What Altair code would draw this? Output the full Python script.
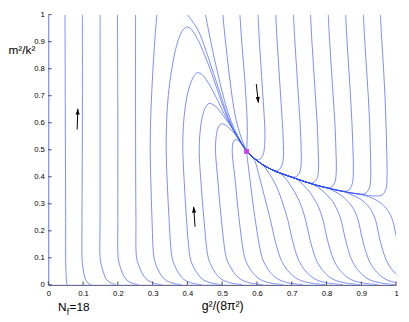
import altair as alt
import pandas as pd

# ---------------- data ----------------
x_ticks = [0, 0.1, 0.2, 0.3, 0.4, 0.5, 0.6, 0.7, 0.8, 0.9, 1]
y_ticks = [0, 0.1, 0.2, 0.3, 0.4, 0.5, 0.6, 0.7, 0.8, 0.9, 1]

fixed_point_x = [0.570]
fixed_point_y = [0.494]

# slow manifold (heavy line) from the right edge into the fixed point
manifold = [(0.945, 0.328), (0.898, 0.335), (0.851, 0.345), (0.804, 0.358), (0.757, 0.374),
            (0.71, 0.394), (0.662, 0.416), (0.64, 0.428), (0.615, 0.446), (0.59, 0.47), (0.570, 0.494)]

# left family: nearly vertical trajectories
curve_L1 = [(0.048, 1.0), (0.049, 0.6), (0.050, 0.25), (0.050, 0.1), (0.051, 0.045), (0.052, 0.02), (0.053, 0.006), (0.056, 0.0)]
curve_L2 = [(0.098, 1.0), (0.098, 0.6), (0.097, 0.25), (0.097, 0.1), (0.099, 0.07), (0.102, 0.045), (0.107, 0.02), (0.115, 0.006), (0.123, 0.001)]
curve_L3 = [(0.149, 1.0), (0.149, 0.6), (0.149, 0.25), (0.149, 0.1), (0.153, 0.07), (0.159, 0.045), (0.167, 0.02), (0.181, 0.006), (0.195, 0.001)]
curve_L4 = [(0.199, 1.0), (0.200, 0.6), (0.200, 0.25), (0.201, 0.1), (0.206, 0.07), (0.213, 0.045), (0.224, 0.02), (0.241, 0.006), (0.259, 0.001)]
curve_L5 = [(0.251, 1.0), (0.251, 0.6), (0.252, 0.25), (0.254, 0.1), (0.261, 0.07), (0.269, 0.045), (0.283, 0.02), (0.304, 0.006), (0.326, 0.001)]
curve_a = [(0.312, 1.0), (0.306, 0.9), (0.301, 0.8), (0.297, 0.7), (0.294, 0.6), (0.293, 0.49), (0.295, 0.38), (0.298, 0.25),
           (0.304, 0.1), (0.311, 0.07), (0.320, 0.045), (0.335, 0.02), (0.358, 0.006), (0.382, 0.001)]

# loops: rise from the bottom, turn over, fall into the fixed point
curve_b = [(0.441, 0.001), (0.415, 0.006), (0.390, 0.02), (0.374, 0.045), (0.364, 0.07), (0.356, 0.1), (0.347, 0.25),
           (0.342, 0.38), (0.339, 0.49), (0.340, 0.6), (0.345, 0.7), (0.354, 0.79), (0.364, 0.86), (0.376, 0.915),
           (0.387, 0.943), (0.397, 0.954), (0.408, 0.95), (0.42, 0.93), (0.435, 0.895), (0.448, 0.855), (0.462, 0.81),
           (0.48, 0.745), (0.50, 0.67), (0.515, 0.62), (0.532, 0.573), (0.55, 0.532), (0.570, 0.494)]
curve_c = [(0.499, 0.001), (0.471, 0.006), (0.444, 0.02), (0.427, 0.045), (0.416, 0.07), (0.408, 0.1), (0.397, 0.25),
           (0.391, 0.38), (0.387, 0.49), (0.388, 0.58), (0.393, 0.65), (0.401, 0.71), (0.411, 0.752), (0.42, 0.775),
           (0.428, 0.785), (0.437, 0.783), (0.447, 0.772), (0.46, 0.748), (0.475, 0.713), (0.49, 0.675), (0.503, 0.64),
           (0.517, 0.607), (0.533, 0.572), (0.551, 0.532), (0.570, 0.494)]
curve_d = [(0.558, 0.001), (0.528, 0.006), (0.499, 0.02), (0.480, 0.045), (0.469, 0.07), (0.46, 0.1), (0.447, 0.25),
           (0.439, 0.38), (0.434, 0.49), (0.436, 0.56), (0.441, 0.61), (0.449, 0.648), (0.456, 0.665), (0.462, 0.671),
           (0.47, 0.67), (0.48, 0.662), (0.492, 0.645), (0.505, 0.623), (0.52, 0.596), (0.535, 0.567), (0.552, 0.531), (0.570, 0.494)]
curve_e = [(0.616, 0.001), (0.584, 0.006), (0.554, 0.02), (0.534, 0.045), (0.522, 0.07), (0.512, 0.1), (0.497, 0.25),
           (0.488, 0.38), (0.481, 0.49), (0.482, 0.54), (0.486, 0.572), (0.491, 0.588), (0.497, 0.596), (0.504, 0.595),
           (0.513, 0.588), (0.525, 0.574), (0.54, 0.553), (0.555, 0.525), (0.570, 0.494)]
curve_f = [(0.675, 0.001), (0.642, 0.006), (0.609, 0.02), (0.588, 0.045), (0.575, 0.07), (0.565, 0.1), (0.548, 0.25),
           (0.538, 0.38), (0.529, 0.49), (0.53, 0.518), (0.533, 0.532), (0.537, 0.537), (0.543, 0.536), (0.551, 0.529),
           (0.56, 0.515), (0.570, 0.494)]
curve_g = [(0.732, 0.001), (0.696, 0.006), (0.662, 0.02), (0.639, 0.045), (0.626, 0.07), (0.615, 0.1), (0.594, 0.25),
           (0.581, 0.38), (0.574, 0.45), (0.570, 0.494)]

# lower-right family: rise from the bottom and merge into the manifold
curve_h = [(0.797, 0.001), (0.757, 0.006), (0.719, 0.02), (0.694, 0.045), (0.679, 0.07), (0.667, 0.1), (0.651, 0.17),
           (0.639, 0.239), (0.627, 0.30), (0.615, 0.36), (0.605, 0.41), (0.597, 0.448), (0.59, 0.47), (0.58, 0.482), (0.570, 0.494)]
curve_i = [(0.847, 0.001), (0.807, 0.006), (0.769, 0.02), (0.744, 0.045), (0.729, 0.07), (0.717, 0.1), (0.701, 0.17),
           (0.689, 0.239), (0.677, 0.29), (0.664, 0.34), (0.65, 0.38), (0.635, 0.412), (0.622, 0.436)]
curve_j = [(0.898, 0.001), (0.858, 0.006), (0.82, 0.02), (0.795, 0.045), (0.78, 0.07), (0.768, 0.1), (0.752, 0.17),
           (0.74, 0.239), (0.728, 0.29), (0.716, 0.325), (0.703, 0.355), (0.69, 0.38), (0.675, 0.404)]
curve_k = [(0.948, 0.001), (0.908, 0.006), (0.87, 0.02), (0.845, 0.045), (0.83, 0.07), (0.818, 0.1), (0.802, 0.17),
           (0.79, 0.239), (0.778, 0.285), (0.766, 0.315), (0.752, 0.343), (0.737, 0.365), (0.72, 0.386)]
curve_l = [(1.0, 0.001), (0.96, 0.006), (0.922, 0.02), (0.897, 0.045), (0.882, 0.07), (0.87, 0.1), (0.854, 0.17),
           (0.842, 0.239), (0.83, 0.28), (0.818, 0.308), (0.803, 0.33), (0.787, 0.35), (0.77, 0.365)]
curve_m = [(1.049, 0.001), (1.009, 0.006), (0.971, 0.02), (0.946, 0.045), (0.931, 0.07), (0.919, 0.1), (0.903, 0.17),
           (0.891, 0.239), (0.879, 0.278), (0.866, 0.302), (0.851, 0.322), (0.834, 0.338), (0.818, 0.349)]
curve_n = [(1.099, 0.001), (1.059, 0.006), (1.021, 0.02), (0.996, 0.045), (0.981, 0.07), (0.969, 0.1), (0.953, 0.17),
           (0.941, 0.239), (0.929, 0.275), (0.916, 0.297), (0.90, 0.315), (0.882, 0.328), (0.865, 0.337)]
curve_o = [(1.148, 0.001), (1.108, 0.006), (1.07, 0.02), (1.045, 0.045), (1.03, 0.07), (1.018, 0.1), (1.002, 0.17),
           (0.99, 0.239), (0.978, 0.272), (0.964, 0.293), (0.948, 0.31), (0.93, 0.322), (0.912, 0.33)]

# top family: fall from the top edge
curve_T40 = [(0.40, 1.0), (0.412, 0.98), (0.425, 0.955), (0.437, 0.925), (0.447, 0.89), (0.458, 0.85), (0.468, 0.81),
             (0.485, 0.745), (0.503, 0.672), (0.517, 0.621), (0.533, 0.574), (0.551, 0.532), (0.570, 0.494)]
curve_T45 = [(0.452, 1.0), (0.461, 0.94), (0.469, 0.89), (0.477, 0.84), (0.486, 0.79), (0.496, 0.735), (0.507, 0.68),
             (0.52, 0.625), (0.536, 0.575), (0.553, 0.532), (0.570, 0.494)]
curve_T50 = [(0.502, 1.0), (0.507, 0.93), (0.513, 0.86), (0.519, 0.79), (0.526, 0.72), (0.534, 0.65), (0.545, 0.585),
             (0.557, 0.537), (0.570, 0.494)]
curve_T55 = [(0.551, 1.0), (0.555, 0.92), (0.56, 0.84), (0.565, 0.76), (0.569, 0.68), (0.572, 0.6), (0.572, 0.54), (0.570, 0.494)]
curve_T60 = [(0.603, 1.0), (0.607, 0.9), (0.612, 0.8), (0.617, 0.7), (0.621, 0.62), (0.623, 0.56), (0.622, 0.515),
             (0.617, 0.48), (0.605, 0.463)]
curve_T65 = [(0.654, 1.0), (0.658, 0.9), (0.663, 0.8), (0.668, 0.7), (0.673, 0.6), (0.676, 0.52), (0.676, 0.47),
             (0.671, 0.44), (0.66, 0.423), (0.648, 0.424)]
curve_T70 = [(0.705, 1.0), (0.709, 0.9), (0.714, 0.8), (0.719, 0.7), (0.724, 0.6), (0.727, 0.5), (0.727, 0.45),
             (0.723, 0.418), (0.712, 0.4), (0.695, 0.401)]
curve_T75 = [(0.754, 1.0), (0.758, 0.9), (0.763, 0.8), (0.768, 0.7), (0.773, 0.6), (0.776, 0.5), (0.777, 0.43),
             (0.773, 0.395), (0.762, 0.378), (0.745, 0.379)]
curve_T80 = [(0.805, 1.0), (0.809, 0.9), (0.814, 0.8), (0.819, 0.7), (0.824, 0.6), (0.827, 0.5), (0.828, 0.42),
             (0.824, 0.38), (0.813, 0.362), (0.795, 0.361)]
curve_T85 = [(0.855, 1.0), (0.859, 0.9), (0.864, 0.8), (0.869, 0.7), (0.873, 0.6), (0.876, 0.5), (0.877, 0.41),
             (0.873, 0.37), (0.862, 0.349), (0.843, 0.347)]
curve_T90 = [(0.906, 1.0), (0.91, 0.9), (0.915, 0.8), (0.92, 0.7), (0.924, 0.6), (0.926, 0.5), (0.927, 0.4),
             (0.923, 0.358), (0.911, 0.338), (0.892, 0.336)]
curve_T95 = [(0.955, 1.0), (0.959, 0.9), (0.964, 0.8), (0.968, 0.7), (0.971, 0.6), (0.973, 0.5), (0.974, 0.4),
             (0.971, 0.355), (0.96, 0.333), (0.94, 0.329)]

# flow-direction arrows (tail -> head)
arrow_tail_x = [0.083, 0.598, 0.422]
arrow_tail_y = [0.575, 0.743, 0.215]
arrow_head_x = [0.085, 0.604, 0.418]
arrow_head_y = [0.652, 0.674, 0.289]
arrow_angle = [2, 174, 356]

# ---------------- build table ----------------
def joined(pts):
    last_x = pts[-1][0]
    return pts + [p for p in manifold if p[0] < last_x - 0.004]

curves = [
    ("L1", curve_L1), ("L2", curve_L2), ("L3", curve_L3), ("L4", curve_L4), ("L5", curve_L5),
    ("a", curve_a), ("b", curve_b), ("c", curve_c), ("d", curve_d), ("e", curve_e), ("f", curve_f), ("g", curve_g),
    ("h", curve_h), ("i", joined(curve_i)), ("j", joined(curve_j)), ("k", joined(curve_k)), ("l", joined(curve_l)),
    ("m", joined(curve_m)), ("n", joined(curve_n)), ("o", joined(curve_o)),
    ("T40", curve_T40), ("T45", curve_T45), ("T50", curve_T50), ("T55", curve_T55),
    ("T60", joined(curve_T60)), ("T65", joined(curve_T65)), ("T70", joined(curve_T70)), ("T75", joined(curve_T75)),
    ("T80", joined(curve_T80)), ("T85", joined(curve_T85)), ("T90", joined(curve_T90)), ("T95", joined(curve_T95)),
]
rows = []
for name, pts in curves:
    for i, (x, y) in enumerate(pts):
        rows.append({"c": name, "i": i, "x": x, "y": y})
df = pd.DataFrame(rows)

fp_df = pd.DataFrame({"x": fixed_point_x, "y": fixed_point_y})
arr_df = pd.DataFrame({"x": arrow_tail_x, "y": arrow_tail_y, "x2": arrow_head_x, "y2": arrow_head_y, "ang": arrow_angle})
head_df = pd.DataFrame({"x": arrow_head_x, "y": arrow_head_y, "ang": arrow_angle})

FONT = "Liberation Sans"
W, H = 354, 275
xs = alt.Scale(domain=[0, 1], nice=False, zero=False)
ys = alt.Scale(domain=[0, 1], nice=False, zero=False)

x_axis = alt.Axis(
    values=x_ticks, format="~g", ticks=False, grid=False, domainColor="#4a4f80", domainWidth=1,
    labelFont=FONT, labelFontSize=7.8, labelColor="black", labelPadding=5, labelFlush=False,
    labelOverlap=False, title="g²/(8π²)", titleFont=FONT, titleFontSize=12.5, titleFontWeight="normal",
    titleColor="black", titleY=25, titleBaseline="alphabetic")
y_axis = alt.Axis(
    values=y_ticks, format="~g", ticks=False, grid=False, domain=True, domainColor="#5f70ff", domainWidth=1,
    labelFont=FONT, labelFontSize=7.8, labelColor="black", labelPadding=4, labelFlush=False,
    labelOverlap=False, title="m²/k²", titleFont=FONT, titleFontSize=12, titleFontWeight="normal",
    titleColor="black", titleAngle=0, titleX=-41, titleY=40, titleAlign="left", titleBaseline="alphabetic")

X = alt.X("x:Q", scale=xs, axis=x_axis, title="g²/(8π²)")
Y = alt.Y("y:Q", scale=ys, axis=y_axis, title="m²/k²")

lines = alt.Chart(df).mark_line(
    interpolate="catmull-rom", clip=True, strokeWidth=0.9, color="#3050ff", opacity=0.72
).encode(x=X, y=Y, detail="c:N", order="i:Q")

xtick = alt.Chart(pd.DataFrame({"x": x_ticks})).mark_rule(color="#222", strokeWidth=0.8).encode(
    x=X, y=alt.value(H), y2=alt.value(H - 3.5))
ytick = alt.Chart(pd.DataFrame({"y": y_ticks})).mark_rule(color="#222", strokeWidth=0.8).encode(
    y=Y, x=alt.value(0), x2=alt.value(3.5))

fp = alt.Chart(fp_df).mark_square(size=24, color="#d63ae6", opacity=1).encode(x=X, y=Y)

shafts = alt.Chart(arr_df).mark_rule(color="black", strokeWidth=1).encode(x=X, y=Y, x2="x2:Q", y2="y2:Q")
heads = alt.Chart(head_df).mark_point(
    shape="M0,0L-0.6,1.7L0.6,1.7Z", filled=True, color="black", opacity=1, size=49, strokeWidth=0
).encode(x=X, y=Y, angle=alt.Angle("ang:Q", scale=None))

t_N = alt.Chart(pd.DataFrame({"t": ["N"]})).mark_text(
    font=FONT, fontSize=12, align="left", baseline="alphabetic", color="black"
).encode(x=alt.value(10), y=alt.value(302), text="t:N")
t_f = alt.Chart(pd.DataFrame({"t": ["f"]})).mark_text(
    font=FONT, fontSize=8.5, align="left", baseline="alphabetic", color="black"
).encode(x=alt.value(18.8), y=alt.value(306), text="t:N")
t_eq = alt.Chart(pd.DataFrame({"t": ["=18"]})).mark_text(
    font=FONT, fontSize=12, align="left", baseline="alphabetic", color="black"
).encode(x=alt.value(21.6), y=alt.value(302), text="t:N")

chart = alt.layer(lines, xtick, ytick, fp, shafts, heads, t_N, t_f, t_eq).properties(
    width=W, height=H,
    autosize=alt.AutoSizeParams(type="none"),
    padding={"left": 41, "top": 4, "right": 5, "bottom": 34},
).configure_view(stroke=None)

chart.save("out.html", embed_options={"renderer": "svg", "actions": False})
